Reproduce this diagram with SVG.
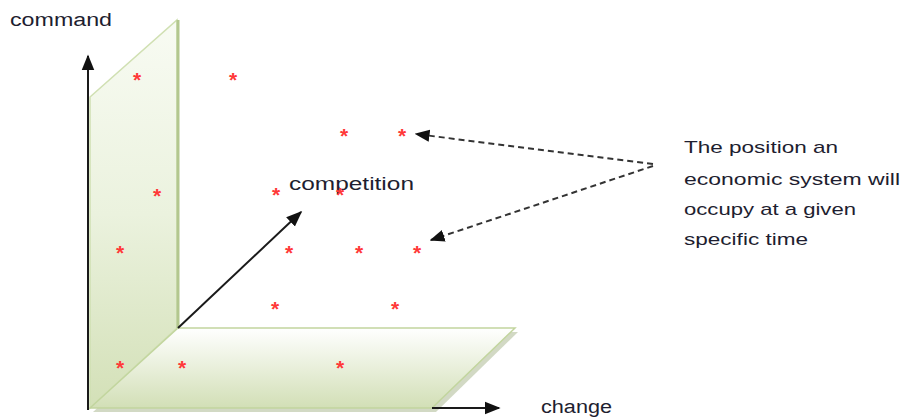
<svg xmlns="http://www.w3.org/2000/svg" width="902" height="419" viewBox="0 0 902 419">
  <defs>
    <linearGradient id="wallFill" x1="0" y1="0" x2="0" y2="1">
      <stop offset="0" stop-color="#f8fbf3"/>
      <stop offset="0.5" stop-color="#ebf2de"/>
      <stop offset="1" stop-color="#d3e0b7"/>
    </linearGradient>
    <linearGradient id="floorFill" x1="0" y1="0" x2="0" y2="1">
      <stop offset="0" stop-color="#ffffff"/>
      <stop offset="1" stop-color="#d2dfb6"/>
    </linearGradient>
    <marker id="axisHead" viewBox="0 0 10 10" refX="9" refY="5" markerWidth="16" markerHeight="16" orient="auto" markerUnits="userSpaceOnUse">
      <path d="M0,1 L10,5 L0,9 z" fill="#111"/>
    </marker>
    <marker id="dashHead" viewBox="0 0 10 10" refX="9" refY="5" markerWidth="15" markerHeight="15" orient="auto" markerUnits="userSpaceOnUse">
      <path d="M0,1 L10,5 L0,9 z" fill="#111"/>
    </marker>
  </defs>
  <style>
    .label { font-family: "Liberation Sans", Arial, sans-serif; font-size: 18px; fill: #1e1e30; }
    .note { font-family: "Liberation Sans", Arial, sans-serif; font-size: 17px; fill: #1e1e30; }
    .star { font-family: "Liberation Sans", Arial, sans-serif; font-size: 21px; font-weight: bold; fill: #ff3838; text-anchor: middle; }
    .axis { stroke: #1a1a1a; stroke-width: 2; fill: none; }
    .pointer { stroke: #333; stroke-width: 2; stroke-dasharray: 6 4; fill: none; }
  </style>

  <!-- vertical plane (command axis wall) -->
  <g id="wall">
    <polygon points="90,97 177,20 177,328 90,408" fill="url(#wallFill)" stroke="#d0e0b2" stroke-width="1.5"/>
    <line x1="178" y1="20" x2="178" y2="328" stroke="#b3c78f" stroke-width="3"/>
  </g>

  <!-- horizontal plane (change axis floor) -->
  <g id="floor">
    <polygon points="93,412 181,332 518,332 436,412" fill="#c7cfb5" opacity="0.8"/>
    <polygon points="90,408 178,328 515,328 432,408" fill="url(#floorFill)" stroke="#c2d59e" stroke-width="1.5"/>
  </g>

  <!-- axes and pointers -->
  <g id="connectors">
    <line class="axis" x1="88" y1="410" x2="88" y2="56" marker-end="url(#axisHead)"/>
    <line class="axis" x1="432" y1="408" x2="499" y2="408" marker-end="url(#axisHead)"/>
    <line class="axis" x1="178" y1="328" x2="301" y2="212" marker-end="url(#axisHead)"/>
    <line class="pointer" x1="653" y1="164" x2="416" y2="134" marker-end="url(#dashHead)"/>
    <line class="pointer" x1="653" y1="166" x2="431" y2="240" marker-end="url(#dashHead)"/>
  </g>

  <!-- axis labels -->
  <g id="axis-labels">
    <text class="label" x="10" y="26" textLength="102" lengthAdjust="spacingAndGlyphs">command</text>
    <text class="label" x="289" y="190" textLength="125" lengthAdjust="spacingAndGlyphs">competition</text>
    <text class="label" x="541" y="413" textLength="71" lengthAdjust="spacingAndGlyphs">change</text>
  </g>

  <!-- positions -->
  <g id="positions">
    <text class="star" x="137" y="87">*</text>
    <text class="star" x="233" y="87">*</text>
    <text class="star" x="344" y="143">*</text>
    <text class="star" x="402" y="143">*</text>
    <text class="star" x="157" y="203">*</text>
    <text class="star" x="276" y="202">*</text>
    <text class="star" x="340" y="202">*</text>
    <text class="star" x="120" y="260">*</text>
    <text class="star" x="289" y="260">*</text>
    <text class="star" x="359" y="260">*</text>
    <text class="star" x="417" y="260">*</text>
    <text class="star" x="275" y="316">*</text>
    <text class="star" x="395" y="316">*</text>
    <text class="star" x="120" y="375">*</text>
    <text class="star" x="182" y="375">*</text>
    <text class="star" x="340" y="375">*</text>
  </g>

  <!-- annotation -->
  <g id="note">
    <text class="note" x="684" y="153" textLength="154" lengthAdjust="spacingAndGlyphs">The position  an</text>
    <text class="note" x="684" y="185" textLength="216" lengthAdjust="spacingAndGlyphs">economic system  will</text>
    <text class="note" x="684" y="215" textLength="172" lengthAdjust="spacingAndGlyphs">occupy at a given</text>
    <text class="note" x="684" y="245" textLength="124" lengthAdjust="spacingAndGlyphs">specific time</text>
  </g>
</svg>
